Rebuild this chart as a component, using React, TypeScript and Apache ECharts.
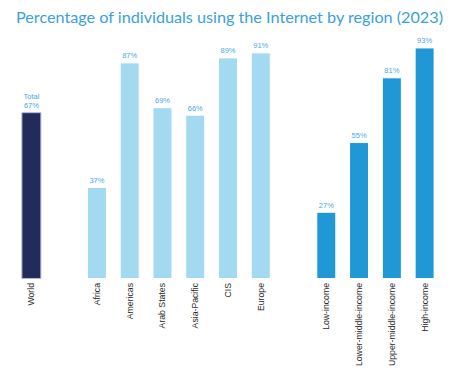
import React, { useEffect, useRef } from "react";
import * as echarts from "echarts";

const categories = ["World", " ", "Africa", "Americas", "Arab States", "Asia-Pacific", "CIS", "Europe", "  ", "Low-income", "Lower-middle-income", "Upper-middle-income", "High-income"];
const values: (number | null)[] = [67, null, 37, 87, 69, 66, 89, 91, null, 27, 55, 81, 93];
const groups = ["world", "", "region", "region", "region", "region", "region", "region", "", "income", "income", "income", "income"];
const groupColors: Record<string, string> = { world: "#232a5c", region: "#a3d9f1", income: "#1f98d5" };

export default function App() {
  const ref = useRef<HTMLDivElement>(null);
  useEffect(() => {
    const chart = echarts.init(ref.current!, null, { renderer: "svg" });
    chart.setOption({
      animation: false,
      title: {
        text: "Percentage of individuals using the Internet by region (2023)",
        left: 8,
        top: 0,
        padding: 0,
        textStyle: { color: "#3a9fdc", fontSize: 16.2, fontWeight: "normal", fontFamily: "Lato" },
      },
      grid: { left: 7, right: 25, top: 22, bottom: 93, outerBoundsMode: "none", containLabel: false },
      xAxis: {
        type: "category",
        data: categories,
        axisLine: { show: false },
        axisTick: { show: false },
        axisLabel: {
          rotate: 90,
          interval: 0,
          margin: 4,
          color: "#2a2a2a",
          fontSize: 8.7,
          fontFamily: "Liberation Sans",
        },
      },
      yAxis: { type: "value", min: 0, max: 100, show: false, splitLine: { show: false } },
      series: [
        {
          type: "bar",
          barWidth: 20,
          data: values.map((v, i) => ({
            value: v,
            itemStyle: {
              color: groupColors[groups[i]] || "#fff",
              borderColor: groups[i] === "world" ? "#b7b9d8" : "#ffffff",
              borderWidth: 1,
            },
            label: {
              formatter: i === 0 ? "Total\n{c}%" : "{c}%",
            },
          })),
          label: {
            show: true,
            position: "top",
            distance: 2,
            color: "#4aa8e0",
            fontSize: 7.5,
            lineHeight: 9,
            fontFamily: "Liberation Sans",
          },
        },
      ],
    });
    return () => chart.dispose();
  }, []);
  return <div ref={ref} style={{ width: 458, height: 364 }} />;
}
